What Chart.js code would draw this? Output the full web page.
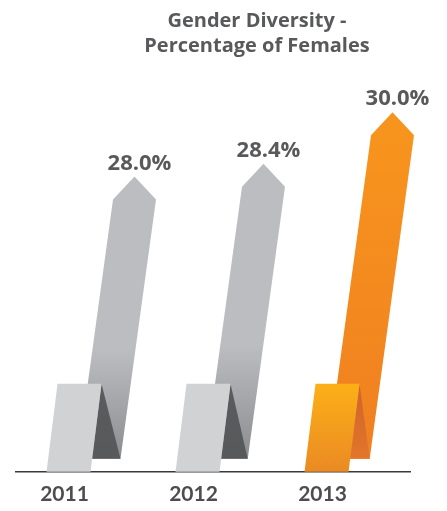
<!DOCTYPE html>
<html>
<head>
<meta charset="utf-8">
<script src="https://cdn.jsdelivr.net/npm/chart.js@4.4.1/dist/chart.umd.min.js"></script>
<style>
    body { margin: 0; background: #ffffff; }
    #wrap { width: 447px; height: 511px; position: relative; }
</style>
</head>
<body>
<div id="wrap"><canvas id="genderChart"></canvas></div>
<script>
// Gender diversity - share of females per year
const YEARS = ['2011', '2012', '2013'];
const FEMALE_PCT = [28.0, 28.4, 30.0];
const TITLE_LINES = ['Gender Diversity -', 'Percentage of Females'];

const FONT = 'Lato, "Open Sans", sans-serif';
const HEAD_FONT = '"Open Sans", Lato, sans-serif';
const TEXT_COLOR = '#58595b';

// colour sets for the folded ribbon arrows
const PALETTES = {
    grey: {
        shaft: [[0, '#bcbdc0'], [0.58, '#bcbdc0'], [1, '#8c8d90']],
        panel: [[0, '#d1d2d4'], [1, '#d1d2d4']],
        fold: [[0, '#5a5b5d'], [1, '#58595b']]
    },
    orange: {
        shaft: [[0, '#f7941d'], [1, '#f07f21']],
        panel: [[0, '#fcb017'], [1, '#ea8a24']],
        fold: [[0, '#cf622c'], [1, '#e2762a']]
    }
};

function linGrad(ctx, y0, y1, stops) {
    const g = ctx.createLinearGradient(0, y0, 0, y1);
    for (const s of stops) {
        g.addColorStop(s[0], s[1]);
    }
    return g;
}

function fillPoly(ctx, pts, fill) {
    ctx.beginPath();
    ctx.moveTo(pts[0][0], pts[0][1]);
    for (let i = 1; i < pts.length; i++) {
        ctx.lineTo(pts[i][0], pts[i][1]);
    }
    ctx.closePath();
    ctx.fillStyle = fill;
    ctx.fill();
}

// Draws each bar as a slanted arrow coming out of a folded ribbon
const ribbonArrows = {
    id: 'ribbonArrows',
    afterDatasetsDraw(chart, args, opts) {
        const ctx = chart.ctx;
        const area = chart.chartArea;
        const base = chart.scales.y.getPixelForValue(chart.scales.y.min);
        const meta = chart.getDatasetMeta(0);

        ctx.save();

        // base line
        ctx.strokeStyle = '#3a3a3a';
        ctx.lineWidth = 1.5;
        ctx.beginPath();
        ctx.moveTo(area.left + opts.lineFrom, base);
        ctx.lineTo(area.right + opts.lineTo, base);
        ctx.stroke();

        meta.data.forEach((bar, i) => {
            const pal = PALETTES[opts.colors[i]];
            const tipX = bar.x + opts.tipShift;
            const tipY = bar.y;
            const half = opts.shaftWidth / 2;
            const shoulderY = tipY + opts.headHeight;
            const shaftBottom = base - opts.shaftLift;
            const lean = opts.slope * (shaftBottom - shoulderY);

            // arrow shaft with head
            fillPoly(ctx, [
                [tipX, tipY],
                [tipX + half, shoulderY],
                [tipX + half - lean, shaftBottom],
                [tipX - half - lean, shaftBottom],
                [tipX - half, shoulderY]
            ], linGrad(ctx, shoulderY, shaftBottom, pal.shaft));

            // front panel of the fold
            const pc = bar.x + opts.panelShift;
            const pw = opts.panelWidth / 2;
            const topY = base - opts.panelHeight;
            const bl = [pc - pw, base];
            const br = [pc + pw, base];
            const tl = [pc - pw + opts.panelLean, topY];
            const tr = [pc + pw + opts.panelLean, topY];
            const t = (shaftBottom - topY) / (base - topY);
            const edgeX = tr[0] + (br[0] - tr[0]) * t;

            // shaded crease between panel and shaft
            fillPoly(ctx, [
                tr,
                [tipX + half - lean, shaftBottom],
                [edgeX, shaftBottom]
            ], linGrad(ctx, topY, shaftBottom, pal.fold));

            fillPoly(ctx, [tl, tr, br, bl], linGrad(ctx, topY, base, pal.panel));

            // value label above the tip
            ctx.fillStyle = TEXT_COLOR;
            ctx.font = 'bold 22px ' + HEAD_FONT;
            ctx.textAlign = 'center';
            ctx.textBaseline = 'alphabetic';
            ctx.fillText(FEMALE_PCT[i].toFixed(1) + '%', tipX + 5, tipY - 7);
        });

        // heading
        ctx.fillStyle = TEXT_COLOR;
        ctx.font = 'bold 20px ' + HEAD_FONT;
        ctx.textAlign = 'center';
        TITLE_LINES.forEach((line, i) => {
            ctx.fillText(line, opts.titleX, 27 + i * 25);
        });

        ctx.restore();
    }
};

const ctx = document.getElementById('genderChart').getContext('2d');
new Chart(ctx, {
    type: 'bar',
    data: {
        labels: YEARS,
        datasets: [{
            label: 'Females (%)',
            data: FEMALE_PCT,
            backgroundColor: 'rgba(0,0,0,0)',
            borderWidth: 0
        }]
    },
    options: {
        responsive: true,
        maintainAspectRatio: false,
        animation: false,
        layout: {
            padding: {left: 0, right: 60, top: 0, bottom: -6}
        },
        plugins: {
            legend: {display: false},
            tooltip: {enabled: false},
            ribbonArrows: {
                colors: ['grey', 'grey', 'orange'],
                tipShift: 70,
                shaftWidth: 43,
                headHeight: 23,
                shaftLift: 13,
                slope: 0.137,
                panelShift: 4,
                panelWidth: 44,
                panelLean: 11,
                panelHeight: 88,
                lineFrom: 15,
                lineTo: 24,
                titleX: 257
            }
        },
        scales: {
            x: {
                grid: {display: false, drawTicks: false, tickLength: 0},
                border: {display: false},
                ticks: {
                    color: '#4d4d4f',
                    padding: 10,
                    font: {family: FONT, size: 21, weight: 'bold'}
                }
            },
            y: {
                display: false,
                min: 18.8,
                max: 33.5
            }
        }
    },
    plugins: [ribbonArrows]
});
</script>
</body>
</html>
